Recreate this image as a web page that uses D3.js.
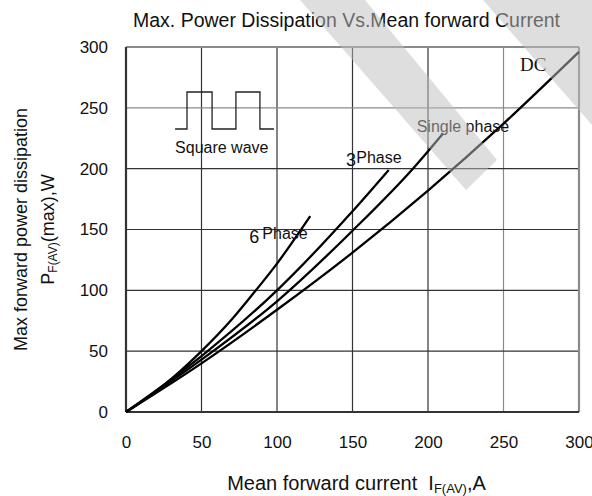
<!DOCTYPE html>
<html>
<head>
<meta charset="utf-8">
<script src="https://cdn.jsdelivr.net/npm/d3@7"></script>
<style>
  body { margin: 0; background: #fff; }
  svg { display: block; font-family: Arial, "Liberation Sans", sans-serif; }
</style>
</head>
<body>
<svg width="592" height="496"></svg>
<script>
// ticks
var xTicks = [0, 50, 100, 150, 200, 250, 300];
var yTicks = [0, 50, 100, 150, 200, 250, 300];

// curves (I in A, P in W)
var dcI     = [0, 50, 100, 150, 200, 250, 300];
var dcP     = [0, 40, 84, 131, 182, 237, 296];
var singleI = [0, 50, 100, 150, 190, 210];
var singleP = [0, 43, 91, 149, 200, 229];
var threeI  = [0, 50, 100, 150, 174];
var threeP  = [0, 46, 100, 165, 199];
var sixI    = [0, 25, 50, 70, 86, 100, 122];
var sixP    = [0, 22, 50, 76, 100, 122, 161];

// square wave inset, in data units
var waveI = [32.5, 40.4, 40.4, 57, 57, 72.8, 72.8, 88.7, 88.7, 98];
var waveP = [232.6, 232.6, 263, 263, 232.6, 232.6, 263, 263, 232.6, 232.6];

function main() {
    var svg = d3.select("svg");

    var x = d3.scaleLinear().domain([0, 300]).range([126, 579]);
    var y = d3.scaleLinear().domain([0, 300]).range([412, 47]);

    // grid (the 250 lines are lighter in the original)
    var gridColor = function(d) { return d === 250 ? "#8a8a8a" : "#333"; };
    var grid = svg.append("g");
    grid.selectAll(".vg").data(xTicks.slice(1, -1)).enter().append("line")
        .attr("x1", function(d) { return x(d); }).attr("x2", function(d) { return x(d); })
        .attr("y1", y(0)).attr("y2", y(300))
        .attr("stroke", gridColor).attr("stroke-width", 1.2);
    grid.selectAll(".hg").data(yTicks.slice(1, -1)).enter().append("line")
        .attr("y1", function(d) { return y(d); }).attr("y2", function(d) { return y(d); })
        .attr("x1", x(0)).attr("x2", x(300))
        .attr("stroke", gridColor).attr("stroke-width", 1.2);

    // frame: top/right grey, left/bottom dark
    svg.append("line").attr("x1", x(0)).attr("x2", x(300)).attr("y1", y(300)).attr("y2", y(300))
        .attr("stroke", "#8a8a8a").attr("stroke-width", 2.2);
    svg.append("line").attr("x1", x(300)).attr("x2", x(300)).attr("y1", y(0)).attr("y2", y(300))
        .attr("stroke", "#8a8a8a").attr("stroke-width", 2.2);
    svg.append("line").attr("x1", x(0)).attr("x2", x(0)).attr("y1", y(0)).attr("y2", y(300))
        .attr("stroke", "#333").attr("stroke-width", 2.2);
    svg.append("line").attr("x1", x(0)).attr("x2", x(300)).attr("y1", y(0)).attr("y2", y(0))
        .attr("stroke", "#333").attr("stroke-width", 2.2);

    // axes (labels only)
    var xAxis = svg.append("g").attr("transform", "translate(0," + y(0) + ")")
        .call(d3.axisBottom(x).tickValues(xTicks).tickSize(0).tickPadding(24));
    var yAxis = svg.append("g").attr("transform", "translate(" + x(0) + ",0)")
        .call(d3.axisLeft(y).tickValues(yTicks).tickSize(0).tickPadding(18));
    [xAxis, yAxis].forEach(function(a) {
        a.select(".domain").remove();
        a.selectAll("text").attr("font-family", "Arial, 'Liberation Sans', sans-serif")
            .attr("font-size", 17).attr("fill", "#111");
    });

    // curves
    var line = d3.line()
        .x(function(d) { return x(d[0]); })
        .y(function(d) { return y(d[1]); })
        .curve(d3.curveMonotoneX);
    var series = [
        d3.zip(dcI, dcP),
        d3.zip(singleI, singleP),
        d3.zip(threeI, threeP),
        d3.zip(sixI, sixP)
    ];
    svg.append("g").selectAll("path").data(series).enter().append("path")
        .attr("d", line)
        .attr("fill", "none")
        .attr("stroke", "#000")
        .attr("stroke-width", 2.3);

    // square wave inset
    svg.append("path")
        .attr("d", d3.line().x(function(d) { return x(d[0]); }).y(function(d) { return y(d[1]); })(d3.zip(waveI, waveP)))
        .attr("fill", "none").attr("stroke", "#222").attr("stroke-width", 1.3);
    svg.append("text").attr("x", x(32.5)).attr("y", y(213.1))
        .attr("font-size", 16).attr("fill", "#111").text("Square wave");

    // curve labels
    svg.append("text").attr("x", x(261)).attr("y", y(280.5))
        .attr("font-family", "'Times New Roman', 'Liberation Serif', serif")
        .attr("font-size", 19).attr("fill", "#111").text("DC");
    svg.append("text").attr("x", x(192.5)).attr("y", y(230.4))
        .attr("font-size", 16).attr("fill", "#111").text("Single phase");
    svg.append("text").attr("x", x(145.7)).attr("y", y(201.8))
        .attr("font-size", 18).attr("fill", "#111").text("3");
    svg.append("text").attr("x", x(152.5)).attr("y", y(204.7))
        .attr("font-size", 16).attr("fill", "#111").text("Phase");
    svg.append("text").attr("x", x(81.7)).attr("y", y(139.2))
        .attr("font-size", 18).attr("fill", "#111").text("6");
    svg.append("text").attr("x", x(90.3)).attr("y", y(142))
        .attr("font-size", 16).attr("fill", "#111").text("Phase");

    // title
    svg.append("text").attr("x", 346.5).attr("y", 26.7)
        .attr("text-anchor", "middle").attr("font-size", 19.5).attr("fill", "#111")
        .text("Max. Power Dissipation Vs.Mean forward Current");

    // x label
    var xl = svg.append("text").attr("x", 356.5).attr("y", 490)
        .attr("text-anchor", "middle").attr("font-size", 20).attr("fill", "#111");
    xl.append("tspan").text("Mean forward current\u00a0\u00a0I");
    xl.append("tspan").attr("font-size", 13).attr("dy", 3).text("F(AV)");
    xl.append("tspan").attr("dy", -3).text(",A");

    // y label, two lines
    svg.append("text").attr("transform", "translate(27," + y(150) + ") rotate(-90)")
        .attr("text-anchor", "middle").attr("font-size", 18).attr("fill", "#111")
        .text("Max forward power dissipation");
    var yl = svg.append("text").attr("transform", "translate(54," + y(150) + ") rotate(-90)")
        .attr("text-anchor", "middle").attr("font-size", 18).attr("fill", "#111");
    yl.append("tspan").text("P");
    yl.append("tspan").attr("font-size", 12).attr("dy", 3).text("F(AV)");
    yl.append("tspan").attr("dy", -3).text("(max),W");

    // faint diagonal watermark bands lying over the chart
    var bands = [
        [[300, 0], [365, 0], [497, 160], [466, 190]],
        [[483, 0], [592, 0], [592, 125]]
    ];
    svg.append("g").selectAll("polygon").data(bands).enter().append("polygon")
        .attr("points", function(d) { return d.join(" "); })
        .attr("fill", "rgb(190,190,190)")
        .attr("fill-opacity", 0.5)
        .style("pointer-events", "none");
}
main();
</script>
</body>
</html>
